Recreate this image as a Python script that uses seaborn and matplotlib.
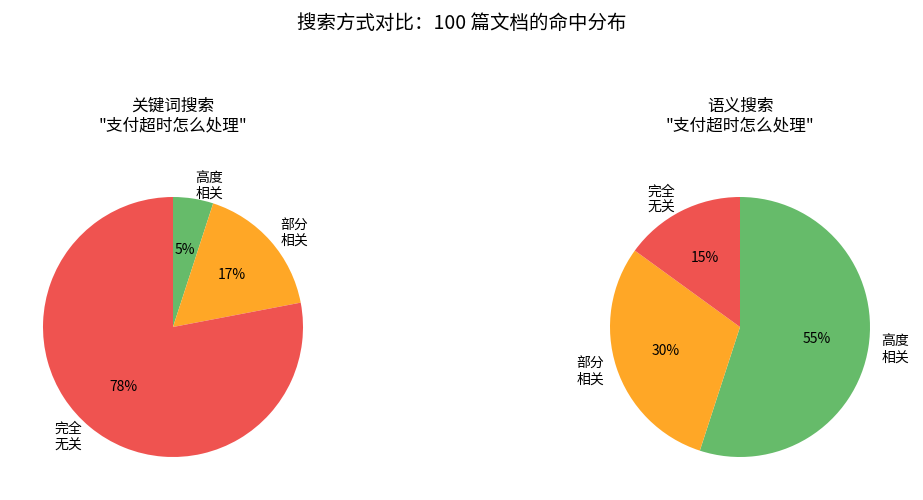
import seaborn as sns
import matplotlib.pyplot as plt

labels = ['高度\n相关', '部分\n相关', '完全\n无关']
keyword_vals = [5, 17, 78]
semantic_vals = [55, 30, 15]
titles = ['关键词搜索\n"支付超时怎么处理"', '语义搜索\n"支付超时怎么处理"']

sns.set_theme(style='white')
plt.rcParams['font.family'] = ['Noto Sans CJK SC', 'DejaVu Sans']
plt.rcParams['text.color'] = 'black'
colors = ['#66BB6A', '#FFA726', '#EF5350']

W, H = 923, 500
fig = plt.figure(figsize=(9.23, 5), dpi=100)
centers = [173, 740]
r = 130
cy = H - 327
for cx, vals, title in zip(centers, [keyword_vals, semantic_vals], titles):
    ax = fig.add_axes([(cx - r) / W, (cy - r) / H, 2 * r / W, 2 * r / H])
    ax.pie(vals, labels=labels, colors=colors, autopct='%d%%', startangle=90,
           counterclock=False, textprops={'fontsize': 10, 'color': 'black'},
           wedgeprops={'linewidth': 0})
    ax.set_xlim(-1, 1)
    ax.set_ylim(-1, 1)
    ax.set_title(title, fontsize=12, pad=48, color='black')

fig.suptitle('搜索方式对比：100 篇文档的命中分布', fontsize=14, y=0.975, color='black')
fig.savefig('out.png')
